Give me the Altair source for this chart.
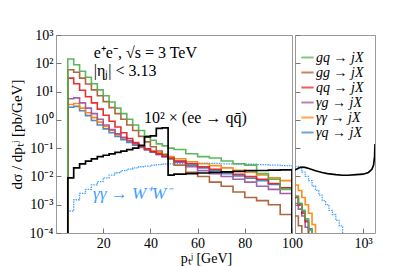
import altair as alt
import pandas as pd

SERIES = ["gq → jX", "gg → jX", "qq → jX", "γg → jX", "γγ → jX", "γq → jX"]
COLORS = ["#4daf4a", "#a65628", "#e41a1c", "#984ea3", "#ff7f00", "#377eb8"]

# left panel bins (pT 5..100 GeV)
L_EDGES = [5, 7.5, 10, 12.5, 15, 17.5, 20, 22.5, 25, 27.5, 30, 32.5, 35, 37.5, 40,
           42.5, 45, 47.5, 50, 55, 60, 65, 70, 75, 80, 85, 90, 95, 100]
GQ_L = [141, 89, 52, 32, 19, 11.5, 7.1, 4.3, 2.6, 1.66, 1.05, 0.66, 0.42, 0.275, 0.19,
        0.141, 0.12, 0.10, 0.089, 0.063, 0.050, 0.045, 0.035, 0.028, 0.025, 0.0126, 0.0079, 0.0035]
GG_L = [59, 48, 30, 18.6, 11.5, 7.1, 4.4, 2.7, 1.66, 1.05, 0.66, 0.42, 0.26, 0.166, 0.112,
        0.079, 0.060, 0.042, 0.025, 0.014, 0.010, 0.0063, 0.0045, 0.0028, 0.0018, 0.0014, 0.0010, 0.00045]
QQ_L = [30, 19, 11.2, 6.6, 4.0, 2.4, 1.45, 0.89, 0.56, 0.35, 0.22, 0.158, 0.12, 0.095, 0.076,
        0.063, 0.052, 0.045, 0.035, 0.028, 0.022, 0.018, 0.014, 0.012, 0.010, 0.0079, 0.0056, 0.0040]
YG_L = [5.6, 6.0, 4.0, 2.6, 1.66, 1.05, 0.66, 0.45, 0.32, 0.24, 0.18, 0.141, 0.112, 0.089, 0.074,
        0.060, 0.050, 0.042, 0.032, 0.022, 0.016, 0.0126, 0.010, 0.0079, 0.0063, 0.0045, 0.0035, 0.0025]
YY_L = [3.5, 3.8, 2.6, 1.78, 1.2, 0.83, 0.58, 0.42, 0.30, 0.23, 0.178, 0.141, 0.112, 0.093, 0.079,
        0.068, 0.058, 0.050, 0.042, 0.033, 0.028, 0.024, 0.020, 0.0166, 0.0141, 0.0112, 0.0089, 0.0071]
YQ_L = [2.8, 3.0, 2.1, 1.41, 0.95, 0.66, 0.48, 0.35, 0.26, 0.20, 0.158, 0.126, 0.105, 0.087, 0.072,
        0.060, 0.050, 0.043, 0.034, 0.025, 0.020, 0.016, 0.0126, 0.0105, 0.0087, 0.0071, 0.0052, 0.0040]
EEQQ_L = [0.0089, 0.020, 0.028, 0.035, 0.042, 0.050, 0.056, 0.063, 0.071, 0.079, 0.089, 0.10, 0.126, 0.25,
          0.27, 0.50, 0.52, 0.0112, 0.012, 0.0126, 0.0132, 0.0138, 0.0145, 0.015, 0.016, 0.0162, 0.0166, 0.017]
WW_L = [0.0006, 0.0015, 0.0025, 0.0035, 0.005, 0.0066, 0.0089, 0.0112, 0.0135, 0.016, 0.018, 0.020, 0.022,
        0.023, 0.025, 0.026, 0.0275, 0.028, 0.029, 0.0295, 0.0295, 0.029, 0.028, 0.0275, 0.027, 0.026, 0.025, 0.024]

# right panel bins (pT 100..1500 GeV, log)
R_EDGES = [100, 112, 126, 141, 158, 178, 200, 224, 251, 282, 316, 355, 398, 447, 501, 562]
GQ_R = [0.0020, 0.0011, 0.00063, 0.00032, 0.000126, 0.00001]
GG_R = [0.0004, 0.00018, 0.00001]
QQ_R = [0.0018, 0.0010, 0.0005, 0.00025, 0.00006]
YG_R = [0.0011, 0.0007, 0.0004, 0.00016, 0.00001]
YY_R = [0.0050, 0.0032, 0.0018, 0.0010, 0.0005, 0.0002, 0.00003]
YQ_R = [0.0020, 0.0011, 0.00056, 0.00028, 0.00014, 0.00001]
WW_R = [0.0224, 0.019, 0.0141, 0.010, 0.0071, 0.0045, 0.0032, 0.0022, 0.0014, 0.0010, 0.00063,
        0.00045, 0.00028, 0.000178, 0.00008]
EEQQ_R_PT = [100, 110, 122, 140, 160, 200, 250, 300, 400, 500, 600, 800, 1000, 1200, 1350, 1430, 1480, 1500]
EEQQ_R = [0.017, 0.019, 0.0214, 0.0209, 0.019, 0.0158, 0.0138, 0.0126, 0.0115, 0.011, 0.011, 0.0115,
          0.012, 0.0138, 0.0178, 0.025, 0.05, 0.14]

Y_TICKS = [1e-4, 1e-3, 1e-2, 1e-1, 1, 10, 100, 1000]
FLOOR = 1e-9
FONT = "Liberation Serif"

L_VALS = [GQ_L, GG_L, QQ_L, YG_L, YY_L, YQ_L]
R_VALS = [GQ_R, GG_R, QQ_R, YG_R, YY_R, YQ_R]


def steps(edges, vals, start_floor=True):
    xs, ys = [], []
    if start_floor:
        xs.append(edges[0]); ys.append(FLOOR)
    for i, v in enumerate(vals):
        xs += [edges[i], edges[i + 1]]
        ys += [v, v]
    xs.append(edges[len(vals)]); ys.append(FLOOR)
    return pd.DataFrame({"x": xs, "y": ys, "i": range(len(xs))})


ylabel = ("datum.value > 500 ? '10³' : datum.value > 50 ? '10²' : datum.value > 5 ? '10¹' : "
          "datum.value > 0.5 ? '10⁰' : datum.value > 0.05 ? '10⁻¹' : datum.value > 0.005 ? '10⁻²' : "
          "datum.value > 0.0005 ? '10⁻³' : '10⁻⁴'")

yscale = alt.Scale(type="log", domain=[1e-4, 1e3], nice=False)
cscale = alt.Scale(domain=SERIES, range=COLORS)


def panel(xscale, xaxis, yaxis, edges, vals_list, ww, start_floor, legend):
    layers = []
    dww = steps(edges, ww, start_floor)
    layers.append(alt.Chart(dww).mark_line(clip=True, color="#4da3ff", strokeWidth=1.3,
                                           strokeDash=[1.5, 1]).encode(
        x=alt.X("x:Q", scale=xscale, axis=xaxis),
        y=alt.Y("y:Q", scale=yscale, axis=yaxis),
        order="i:Q"))
    for k in reversed(range(len(SERIES))):
        d = steps(edges, vals_list[k], start_floor)
        d["s"] = SERIES[k]
        layers.append(alt.Chart(d).mark_line(clip=True, strokeWidth=1.6, opacity=0.9).encode(
            x=alt.X("x:Q", scale=xscale, axis=xaxis),
            y=alt.Y("y:Q", scale=yscale, axis=yaxis),
            color=alt.Color("s:N", scale=cscale, legend=legend),
            order="i:Q"))
    return layers


legend = alt.Legend(title=None, orient="none", legendX=244, legendY=15, symbolType="stroke",
                    symbolSize=150, symbolStrokeWidth=2, symbolOpacity=0.7, labelFont=FONT,
                    labelFontStyle="italic", labelFontSize=14, rowPadding=-0.5, labelOffset=1,
                    padding=0)

# ----- left panel
lx = alt.Scale(domain=[0, 100], nice=False)
lxaxis = alt.Axis(values=[20, 40, 60, 80, 100], title="pₜʲ  [GeV]", titleX=150, titleY=34,
                  titleBaseline="alphabetic", titleFontSize=14, offset=-5, tickSize=5,
                  domain=False, grid=False, labelPadding=3, labelFlush=False)
lyaxis = alt.Axis(values=Y_TICKS, labelExpr=ylabel, title="dσ / dpₜʲ  [pb/GeV]", offset=-5,
                  tickSize=5, domain=False, grid=False, labelPadding=3, titlePadding=5)
left_layers = panel(lx, lxaxis, lyaxis, L_EDGES, L_VALS, WW_L, True, legend)

dblack = steps(L_EDGES, EEQQ_L, True)
left_layers.append(alt.Chart(dblack).mark_line(clip=True, color="black", strokeWidth=1.7).encode(
    x=alt.X("x:Q", scale=lx, axis=lxaxis), y=alt.Y("y:Q", scale=yscale, axis=lyaxis), order="i:Q"))

TEXTS = ["e⁺e⁻,  √s  =  3 TeV", "|ηⱼ|  <  3.13", "10² × (ee → qq̄)", "γγ → W⁺W⁻"]
TEXT_X = [16, 16, 37.3, 15.7]
TEXT_Y = [230, 54, 1.2, 0.0024]
TEXT_C = ["black", "black", "black", "#3d9dff"]
TEXT_S = ["normal", "normal", "normal", "italic"]
TEXT_F = [16, 16, 16, 17]
tdf = pd.DataFrame({"t": TEXTS, "x": TEXT_X, "y": TEXT_Y, "c": TEXT_C, "st": TEXT_S, "f": TEXT_F})
for st in ["normal", "italic"]:
    left_layers.append(alt.Chart(tdf[tdf.st == st]).mark_text(
        align="left", baseline="middle", font=FONT, fontStyle=st).encode(
        x=alt.X("x:Q", scale=lx, axis=lxaxis), y=alt.Y("y:Q", scale=yscale, axis=lyaxis),
        text="t:N", color=alt.Color("c:N", scale=None), size=alt.Size("f:Q", scale=None)))

left = alt.layer(*left_layers).properties(width=236, height=198)

# ----- right panel
rx = alt.Scale(type="log", domain=[100, 1500], nice=False)
rxaxis = alt.Axis(values=[1000], labelExpr="'10³'", title=None, offset=-5, tickSize=5,
                  domain=False, grid=False, labelPadding=3)
ryaxis = alt.Axis(values=Y_TICKS, labels=False, title=None, offset=-5, tickSize=5,
                  domain=False, grid=False)
right_layers = panel(rx, rxaxis, ryaxis, R_EDGES, R_VALS, WW_R, False, legend)
dbr = pd.DataFrame({"x": EEQQ_R_PT, "y": EEQQ_R, "i": range(len(EEQQ_R))})
right_layers.append(alt.Chart(dbr).mark_line(clip=True, color="black", strokeWidth=1.7).encode(
    x=alt.X("x:Q", scale=rx, axis=rxaxis), y=alt.Y("y:Q", scale=yscale, axis=ryaxis), order="i:Q"))
right = alt.layer(*right_layers).properties(width=80, height=198)

chart = alt.hconcat(left, right, spacing=3, bounds="flush").properties(
    padding={"left": 0, "top": 19, "right": 5, "bottom": 5}, background="white"
).configure_view(stroke="#999999", strokeWidth=1).configure_axis(
    labelFont=FONT, labelFontSize=14, titleFont=FONT, titleFontSize=15, titleFontWeight="normal",
    labelColor="black", titleColor="black", tickColor="#777777"
)

chart.save("out.html", embed_options={"renderer": "svg", "actions": False})
